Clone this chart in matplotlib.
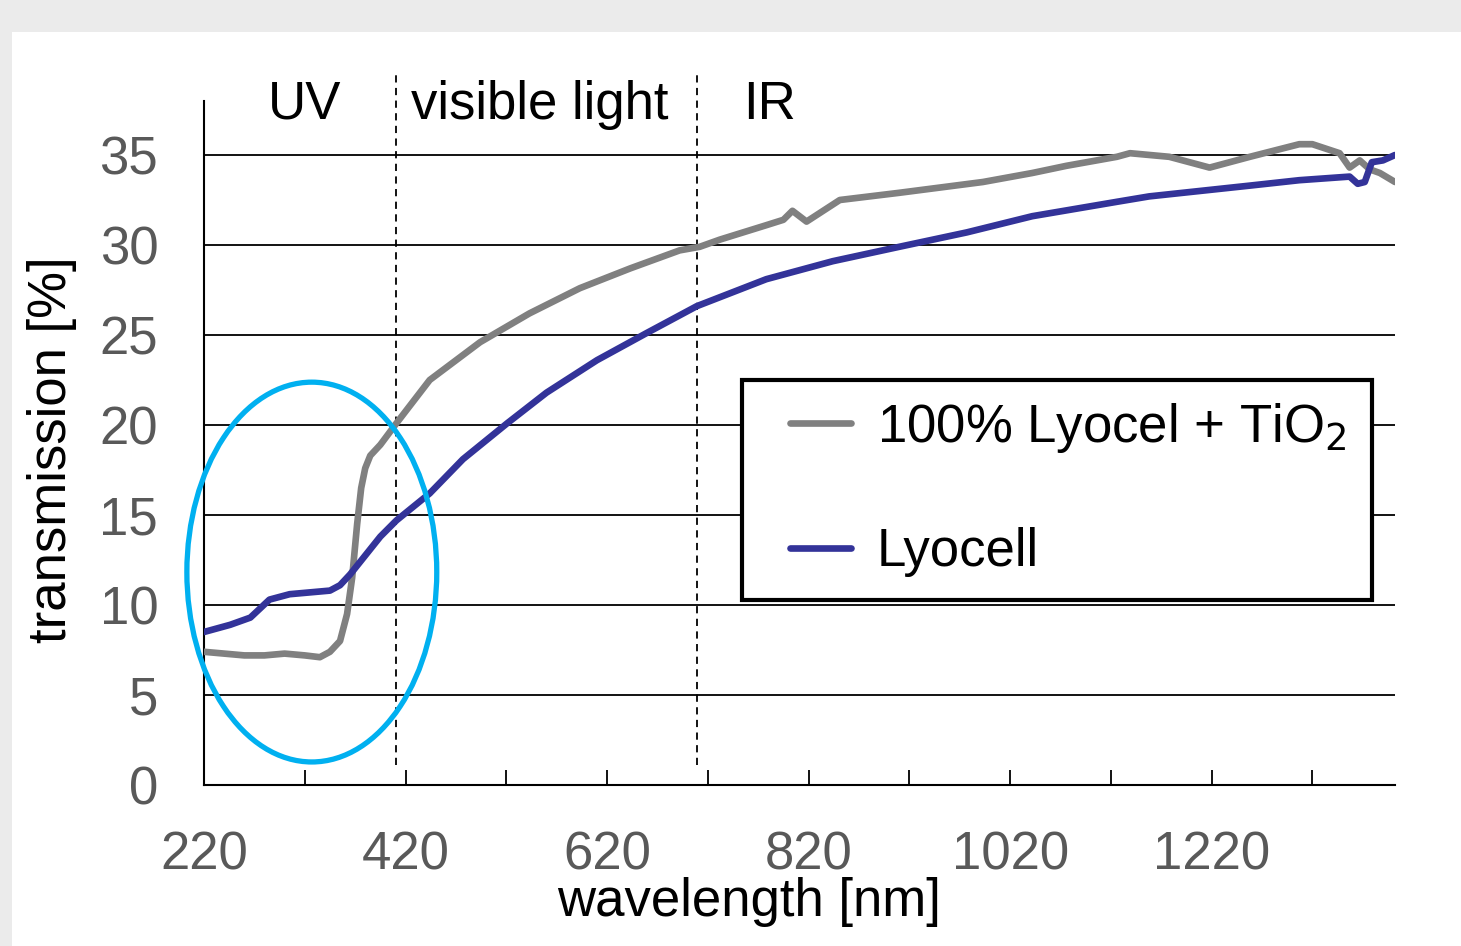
import numpy as np
import matplotlib.pyplot as plt
from matplotlib.patches import Ellipse, Rectangle

# wavelength [nm] / transmission [%]
wl_tio2 = [220, 240, 260, 280, 300, 320, 335, 345, 355, 362, 367, 372, 376, 380, 385, 395,
           411, 444, 494, 543, 593, 643, 692, 712, 732, 778, 795, 804, 818, 851, 910, 993,
           1042, 1076, 1126, 1139, 1178, 1218, 1258, 1307, 1320, 1347, 1357, 1367, 1377, 1387, 1402]
tr_tio2 = [7.4, 7.3, 7.2, 7.2, 7.3, 7.2, 7.1, 7.4, 8.0, 9.5, 11.5, 14.5, 16.5, 17.6, 18.3, 18.9,
           20.1, 22.5, 24.6, 26.2, 27.6, 28.7, 29.7, 29.9, 30.3, 31.1, 31.4, 31.9, 31.3, 32.5, 32.9, 33.5,
           34.0, 34.4, 34.9, 35.1, 34.9, 34.3, 34.9, 35.6, 35.6, 35.1, 34.3, 34.7, 34.2, 34.0, 33.5]

wl_lyo = [220, 246, 266, 285, 305, 325, 345, 355, 365, 375, 395, 411, 444, 477, 521, 560,
          610, 659, 709, 732, 778, 844, 910, 977, 1042, 1126, 1158, 1208, 1258, 1307,
          1357, 1365, 1372, 1379, 1390, 1402]
tr_lyo = [8.5, 8.9, 9.3, 10.3, 10.6, 10.7, 10.8, 11.1, 11.7, 12.4, 13.8, 14.7, 16.2, 18.1, 20.1, 21.8,
          23.6, 25.1, 26.6, 27.1, 28.1, 29.1, 29.9, 30.7, 31.6, 32.4, 32.7, 33.0, 33.3, 33.6,
          33.8, 33.4, 33.5, 34.6, 34.7, 35.0]

region_edges = [411, 709]
region_labels = ['UV', 'visible light', 'IR']
region_pos = [320, 553, 781]

plt.rcParams['font.family'] = ['Liberation Sans', 'DejaVu Sans']
fs = 38

fig = plt.figure(figsize=(14.61, 9.46), dpi=100, facecolor='#ebebeb')
fig.patches.append(Rectangle((12 / 1461, 0), 1, (946 - 32) / 946, transform=fig.transFigure,
                             facecolor='white', edgecolor='none', zorder=-5))
ax = fig.add_axes([204 / 1461, 161 / 946, 1191 / 1461, 684 / 946])
ax.set_facecolor('none')

ax.set_xlim(220, 1402)
ax.set_ylim(0, 38)

for y in range(5, 40, 5):
    ax.axhline(y, color='black', lw=1.3, zorder=1)

ax.plot(wl_tio2, tr_tio2, color='#808080', lw=4.8, solid_capstyle='round',
        label='100% Lyocel + TiO$_2$', zorder=3)
ax.plot(wl_lyo, tr_lyo, color='#333399', lw=4.8, solid_capstyle='round',
        label='Lyocell', zorder=3)

for xe in region_edges:
    ax.plot([xe, xe], [1.1, 39.7], color='black', lw=1.3, ls=(0, (4, 3)), clip_on=False, zorder=2)
for txt, xp in zip(region_labels, region_pos):
    ax.text(xp, 37.8, txt, ha='center', va='center', fontsize=fs, color='black')

ell = Ellipse((327, 11.83), 248, 21.1, fill=False, edgecolor='#00b0f0', lw=3.8, clip_on=False, zorder=4)
ax.add_patch(ell)

ax.spines['top'].set_visible(False)
ax.spines['right'].set_visible(False)
for s in ['left', 'bottom']:
    ax.spines[s].set_linewidth(1.5)

ax.set_xticks(np.arange(220, 1402, 200))
ax.set_xticks(np.arange(320, 1402, 200), minor=True)
ax.set_yticks(np.arange(0, 36, 5))
ax.tick_params(axis='x', which='both', direction='in', length=11, width=1.3, pad=33,
               labelsize=fs, labelcolor='#595959')
ax.tick_params(axis='y', length=0, pad=33, labelsize=fs, labelcolor='#595959')

ax.set_xlabel('wavelength [nm]', fontsize=fs, labelpad=0)
ax.xaxis.set_label_coords(0.458, -0.135)
ax.set_ylabel('transmission [%]', fontsize=fs)
ax.yaxis.set_label_coords(-0.107, 0.49)

# legend frame drawn separately so the padding matches the reference
ax.add_patch(Rectangle((0.4517, 0.2705), 0.529, 0.3216, transform=ax.transAxes,
                       facecolor='white', edgecolor='black', lw=3, zorder=5, clip_on=False))
leg = ax.legend(loc='upper left', bbox_to_anchor=(0.492, 0.562), fontsize=fs,
                handlelength=1.15, handletextpad=0.5, labelspacing=1.38, borderpad=0,
                borderaxespad=0, frameon=False)
leg.set_zorder(6)

fig.savefig('out.png', dpi=100, facecolor=fig.get_facecolor())
